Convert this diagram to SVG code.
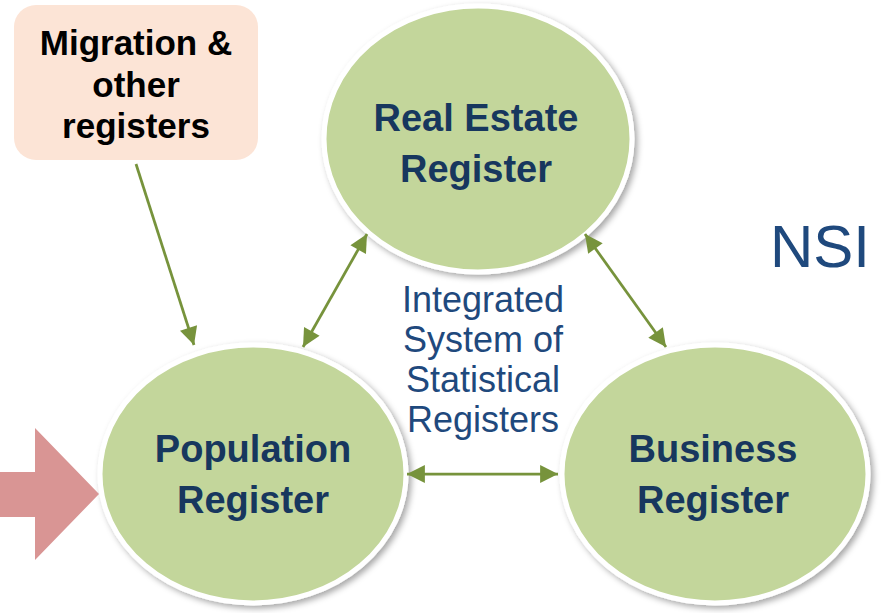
<svg xmlns="http://www.w3.org/2000/svg" width="884" height="613" viewBox="0 0 884 613">
<style>
.node{fill:#C3D69B;stroke:#FFFFFF;stroke-width:5;filter:url(#sh)}
.bt{font-family:"Liberation Sans",Arial,sans-serif;font-weight:bold;font-size:38px;fill:#17375E;text-anchor:middle}
.mt{font-family:"Liberation Sans",Arial,sans-serif;font-weight:bold;font-size:35px;fill:#000000;text-anchor:middle}
.rt{font-family:"Liberation Sans",Arial,sans-serif;font-size:36px;fill:#1F497D;text-anchor:middle}
.con{stroke:#77933C;stroke-width:2.75;fill:none}
</style>
<defs>
<filter id="sh" x="-20%" y="-20%" width="140%" height="140%">
<feDropShadow dx="3" dy="3" stdDeviation="3" flood-color="#000" flood-opacity="0.35"/>
</filter>
<marker id="ah" viewBox="0 0 10 10" refX="10" refY="5" markerWidth="7" markerHeight="6.5" markerUnits="strokeWidth" orient="auto-start-reverse">
<path d="M0,0 L10,5 L0,10 z" fill="#77933C"/>
</marker>
</defs>
<rect width="884" height="613" fill="#FFFFFF"/>
<g id="migration">
<rect x="14" y="5" width="244" height="155" rx="22" ry="22" fill="#FCE4D6"/>
<text class="mt" x="136" y="55">Migration &amp;</text>
<text class="mt" x="136" y="97">other</text>
<text class="mt" x="136" y="138">registers</text>
</g>
<g id="realestate">
<ellipse class="node" cx="478" cy="139" rx="154" ry="133"/>
<text class="bt" x="476" y="131">Real Estate</text>
<text class="bt" x="476" y="182">Register</text>
</g>
<g id="population">
<ellipse class="node" cx="253" cy="474" rx="153" ry="129"/>
<text class="bt" x="253" y="462">Population</text>
<text class="bt" x="253" y="513">Register</text>
</g>
<g id="business">
<ellipse class="node" cx="715" cy="474" rx="153" ry="129"/>
<text class="bt" x="713" y="462">Business</text>
<text class="bt" x="713" y="513">Register</text>
</g>
<g id="input-arrow">
<polygon points="0,472 35,472 35,428 99,494 35,560 35,517 0,517" fill="#D99594"/>
</g>
<g id="label">
<text class="rt" x="483" y="312">Integrated</text>
<text class="rt" x="483" y="352">System of</text>
<text class="rt" x="483" y="392">Statistical</text>
<text class="rt" x="483" y="432">Registers</text>
</g>
<g id="nsi">
<text x="820" y="267" font-family="'Liberation Sans',Arial,sans-serif" font-size="60" fill="#1F497D" text-anchor="middle">NSI</text>
</g>
<g id="connectors">
<line class="con" x1="136" y1="164" x2="194" y2="345" marker-end="url(#ah)"/>
<line class="con" x1="367" y1="234" x2="303" y2="347" marker-start="url(#ah)" marker-end="url(#ah)"/>
<line class="con" x1="585" y1="234" x2="666" y2="347" marker-start="url(#ah)" marker-end="url(#ah)"/>
<line class="con" x1="407" y1="474" x2="558" y2="474" marker-start="url(#ah)" marker-end="url(#ah)"/>
</g>
</svg>
